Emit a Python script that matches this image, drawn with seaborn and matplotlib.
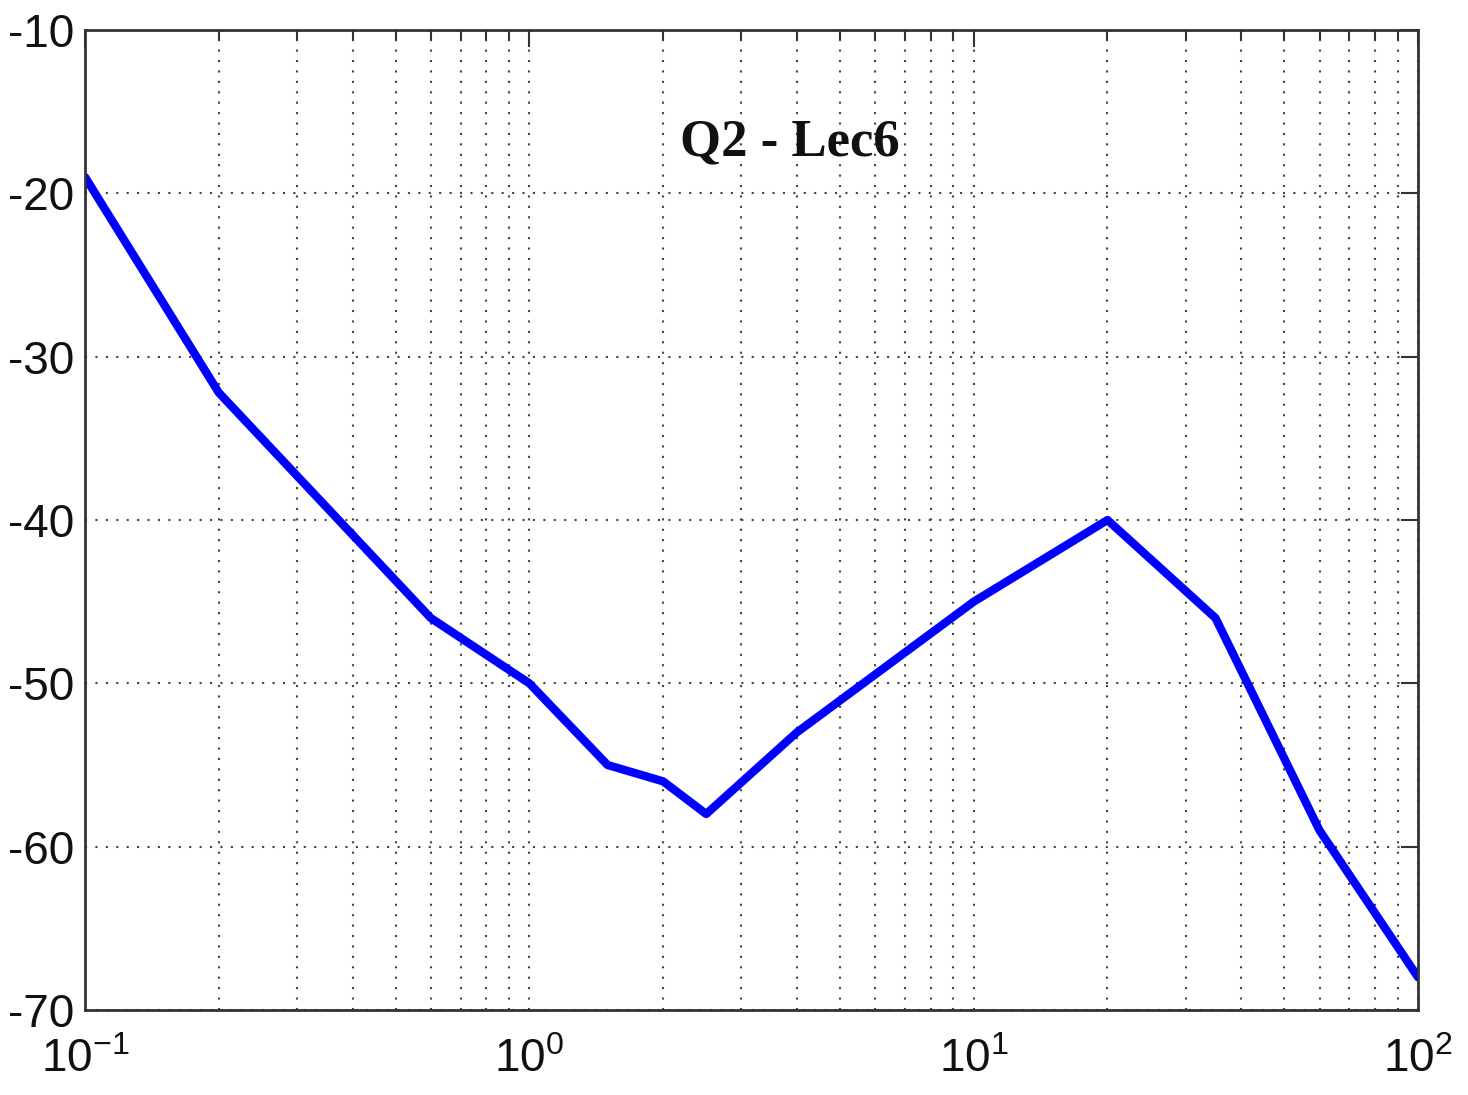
import matplotlib
matplotlib.use("Agg")
import matplotlib.pyplot as plt
import seaborn as sns
import pandas as pd
from matplotlib.ticker import LogLocator

# frequency points and magnitude
freq = [0.1, 0.2, 0.6, 1.0, 1.5, 2.0, 2.5, 4.0, 10.0, 20.0, 35.0, 60.0, 100.0]
mag = [-19, -32.2, -46, -50, -55, -56, -58, -53, -45, -40, -46, -59, -68]
y_ticks = [-70, -60, -50, -40, -30, -20, -10]
title_text = "Q2 - Lec6"

df = pd.DataFrame({"freq": freq, "mag": mag})

sns.set_style("white")
plt.rcParams["font.family"] = ["Liberation Sans", "DejaVu Sans"]
plt.rcParams["axes.unicode_minus"] = False

fig = plt.figure(figsize=(14.68, 10.95), dpi=100)
ax = fig.add_axes([0.0579, 0.0776, 0.9081, 0.895])

sns.lineplot(data=df, x="freq", y="mag", ax=ax, color="#0000ff", linewidth=6, sort=False)

ax.set_xscale("log")
ax.set_xlim(0.1, 100)
ax.set_ylim(-70, -10)
ax.set_yticks(y_ticks)
ax.xaxis.set_major_locator(LogLocator(base=10, numticks=10))
ax.xaxis.set_minor_locator(LogLocator(base=10, subs=range(2, 10), numticks=100))

grid_style = dict(linestyle=(0, (1, 4)), color="#444444", linewidth=1.5)
ax.grid(True, which="both", axis="x", **grid_style)
ax.grid(True, which="major", axis="y", **grid_style)

ax.tick_params(axis="both", which="both", direction="in", top=True, right=True,
               color="#333333", width=1.5)
ax.tick_params(axis="both", which="major", length=12, labelsize=33, labelcolor="#111111")
ax.tick_params(axis="y", which="major", pad=8)
ax.tick_params(axis="x", which="minor", length=7)
ax.tick_params(axis="x", which="major", pad=20)

for s in ax.spines.values():
    s.set_color("#333333")
    s.set_linewidth(2)

ax.set_xlabel("")
ax.set_ylabel("")

ax.text(0.529, 0.885, title_text, transform=ax.transAxes, ha="center", va="center",
        fontsize=38, fontweight="bold", color="#111111",
        family=["Liberation Serif", "DejaVu Serif"])

fig.savefig("out.png", dpi=100, facecolor="white")
